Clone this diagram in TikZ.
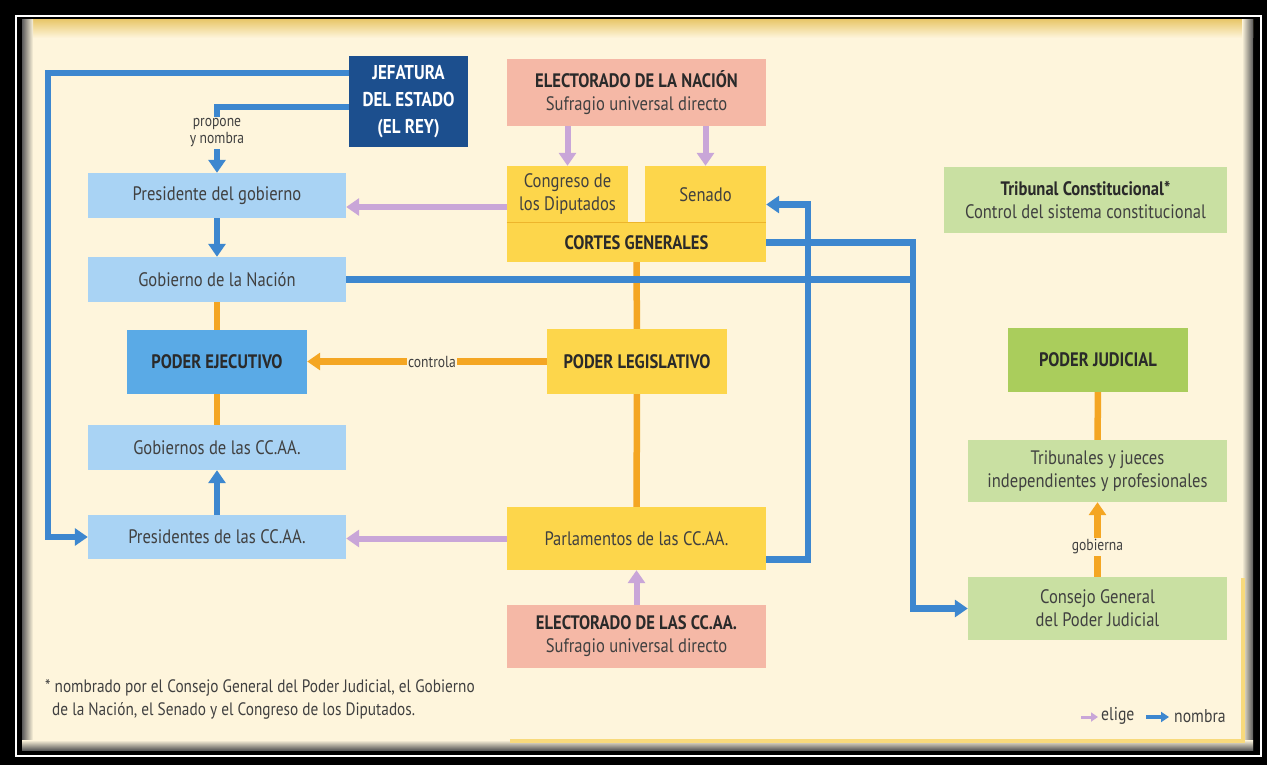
\documentclass[tikz,border=0pt]{standalone}
\usepackage{fontspec}
\setmainfont{PT Sans}[FakeStretch=0.85]
\usetikzlibrary{arrows.meta}

\definecolor{bg}{HTML}{FEF5DC}
\definecolor{gold}{HTML}{E9C86E}
\definecolor{shadowgray}{HTML}{5A5A5A}
\definecolor{lightblue}{HTML}{A9D3F4}
\definecolor{midblue}{HTML}{5AAAE6}
\definecolor{navy}{HTML}{1C4F8E}
\definecolor{blueline}{HTML}{3D87CF}
\definecolor{lilac}{HTML}{C9A6D8}
\definecolor{orangeline}{HTML}{F4A623}
\definecolor{yellowbox}{HTML}{FDD64B}
\definecolor{yellowedge}{HTML}{EDB52C}
\definecolor{pinkbox}{HTML}{F5B8A6}
\definecolor{greenlight}{HTML}{C9E0A2}
\definecolor{greendark}{HTML}{AACD5C}
\definecolor{txt}{HTML}{404040}
\definecolor{txtbold}{HTML}{2A2A2A}
\definecolor{panelline}{HTML}{F8DA7C}

\tikzset{
  box/.style={rectangle, inner sep=0pt, align=center, text=txt,
    font=\fontsize{19.5}{23}\selectfont},
  headbox/.style={box, text=txtbold, font=\bfseries\fontsize{19.5}{23}\selectfont},
  small/.style={inner sep=1.5pt, align=center, text=txt, fill=bg,
    font=\fontsize{16}{17}\selectfont},
  tip/.style={-{Triangle[width=17pt,length=13pt]}},
  nombra/.style={draw=blueline, line width=6.5pt},
  elige/.style={draw=lilac, line width=6pt},
  enlace/.style={draw=orangeline, line width=6.5pt},
}

\begin{document}
\begin{tikzpicture}[x=1pt, y=-1pt]
\useasboundingbox (0,0) rectangle (1267,765);

% frame and panel
\fill[black] (0,0) rectangle (1267,765);
\draw[white, line width=2pt] (16,16) rectangle (1261,756);
\fill[bg] (22,20) rectangle (1253,750);
\shade[top color=gold, bottom color=bg] (22,20) rectangle (1253,38);
\shade[left color=shadowgray, right color=bg] (22,20) rectangle (33,750);
\shade[left color=bg, right color=shadowgray] (1242,20) rectangle (1253,750);
\shade[top color=bg, bottom color=shadowgray] (22,740) rectangle (1253,750);
\draw[panelline, line width=3.5pt] (510,741) -- (1243,741) -- (1243,578);

% executive column
\node[box, fill=navy, text=white, font=\bfseries\fontsize{20}{27}\selectfont,
  minimum width=119, minimum height=91] (jef) at (408.5,101.5)
  {JEFATURA\\DEL ESTADO\\(EL REY)};
\node[box, fill=lightblue, minimum width=258, minimum height=45] (pres) at (217,195.5) {Presidente del gobierno};
\node[box, fill=lightblue, minimum width=258, minimum height=45] (gob) at (217,279.5) {Gobierno de la Nación};
\node[headbox, fill=midblue, minimum width=180, minimum height=64] (pe) at (217,362) {PODER EJECUTIVO};
\node[box, fill=lightblue, minimum width=258, minimum height=45] (gobcc) at (217,447.5) {Gobiernos de las CC.AA.};
\node[box, fill=lightblue, minimum width=258, minimum height=44] (prescc) at (217,537) {Presidentes de las CC.AA.};

% legislative column
\node[box, fill=pinkbox, minimum width=259, minimum height=67] (elecN) at (636.5,92.5)
  {{\bfseries\color{txtbold}ELECTORADO DE LA NACIÓN}\\Sufragio universal directo};
\node[box, fill=yellowbox, minimum width=121, minimum height=57] (cong) at (567.5,194.5) {Congreso de\\los Diputados};
\node[box, fill=yellowbox, minimum width=121, minimum height=57] (sen) at (705.5,194.5) {Senado};
\node[headbox, fill=yellowbox, minimum width=259, minimum height=39] (cortes) at (636.5,242.5) {CORTES GENERALES};
\draw[yellowedge, line width=1.2pt] (cortes.north west) -- (cortes.north east);
\node[headbox, fill=yellowbox, minimum width=180, minimum height=65] (pl) at (637,361.5) {PODER LEGISLATIVO};
\node[box, fill=yellowbox, minimum width=259, minimum height=63] (parl) at (636.5,538.5) {Parlamentos de las CC.AA.};
\node[box, fill=pinkbox, minimum width=259, minimum height=63] (elecC) at (636.5,636.5)
  {{\bfseries\color{txtbold}ELECTORADO DE LAS CC.AA.}\\Sufragio universal directo};

% judicial column
\node[box, fill=greenlight, minimum width=283, minimum height=66] (tc) at (1085.5,200)
  {{\bfseries\color{txtbold}Tribunal Constitucional*}\\Control del sistema constitucional};
\node[headbox, fill=greendark, minimum width=180, minimum height=64] (pj) at (1098,360) {PODER JUDICIAL};
\node[box, fill=greenlight, minimum width=259, minimum height=62] (trib) at (1097.5,471)
  {Tribunales y jueces\\independientes y profesionales};
\node[box, fill=greenlight, minimum width=259, minimum height=63] (cgpj) at (1097.5,608.5)
  {Consejo General\\del Poder Judicial};

% helper points for the routed connectors
\coordinate (vL) at (48,0);
\coordinate (vM) at (808,0);
\coordinate (vR) at (913,0);
\coordinate (jefA) at ([yshift=28.5pt]jef.west);
\coordinate (jefB) at ([yshift=-5.5pt]jef.west);
\coordinate (congL) at ([yshift=-12.5pt]cong.west);
\coordinate (senR) at ([yshift=-10pt]sen.east);
\coordinate (parlR) at ([yshift=-21pt]parl.east);

% structural links (orange)
\draw[enlace] (gob) -- (pe);
\draw[enlace] (pe) -- (gobcc);
\draw[enlace] (cortes) -- (pl);
\draw[enlace] (pl) -- (parl);
\draw[enlace] (pj) -- (trib);
\draw[enlace, tip] (pl.west) -- (pl.west -| pe.east);
\node[small] (lctrl) at (432,361.5) {controla};
\draw[enlace, tip] (cgpj) -- (trib);
\node[small] (lgob) at (1097.5,547) {gobierna};

% elections (lilac)
\draw[elige, tip] (cong.north |- elecN.south) -- (cong.north);
\draw[elige, tip] (sen.north |- elecN.south) -- (sen.north);
\draw[elige, tip] (congL) -- (congL -| pres.east);
\draw[elige, tip] (parl.west) -- (parl.west -| prescc.east);
\draw[elige, tip] (elecC) -- (parl);

% appointments (blue)
\draw[nombra, tip] (jefA) -| (vL |- prescc.west) -- (prescc.west);
\draw[nombra, tip] (jefB) -| (pres.north);
\node[small] (lprop) at (217,133) {propone\\y nombra};
\draw[nombra, tip] (pres) -- (gob);
\draw[nombra, tip] (prescc) -- (gobcc);
\draw[nombra, tip] (gob.east) -| (vR |- cgpj.west) -- (cgpj.west);
\draw[nombra] (cortes.east) -| (vR |- gob.east);
\draw[nombra, tip] (parlR) -| (vM |- senR) -- (senR);

% footnote
\node[anchor=north west, inner sep=0pt, align=left, text=txt,
  font=\fontsize{18}{23}\selectfont] (nota) at (45,679)
  {* nombrado por el Consejo General del Poder Judicial, el Gobierno\\
   \hspace*{7pt}de la Nación, el Senado y el Congreso de los Diputados.};

% legend
\coordinate (la1) at (1081,717);
\coordinate (la2) at (1098,717);
\coordinate (lb1) at (1146,717);
\coordinate (lb2) at (1169,717);
\draw[lilac, line width=3pt, -{Triangle[width=9pt,length=7pt]}] (la1) -- (la2);
\node[anchor=west, inner sep=0pt, text=txt, font=\fontsize{18.5}{18.5}\selectfont] (lel) at (1101,716) {elige};
\draw[blueline, line width=3.5pt, -{Triangle[width=10pt,length=8pt]}] (lb1) -- (lb2);
\node[anchor=west, inner sep=0pt, text=txt, font=\fontsize{18.5}{18.5}\selectfont] (lno) at (1174,716) {nombra};
\end{tikzpicture}
\end{document}
